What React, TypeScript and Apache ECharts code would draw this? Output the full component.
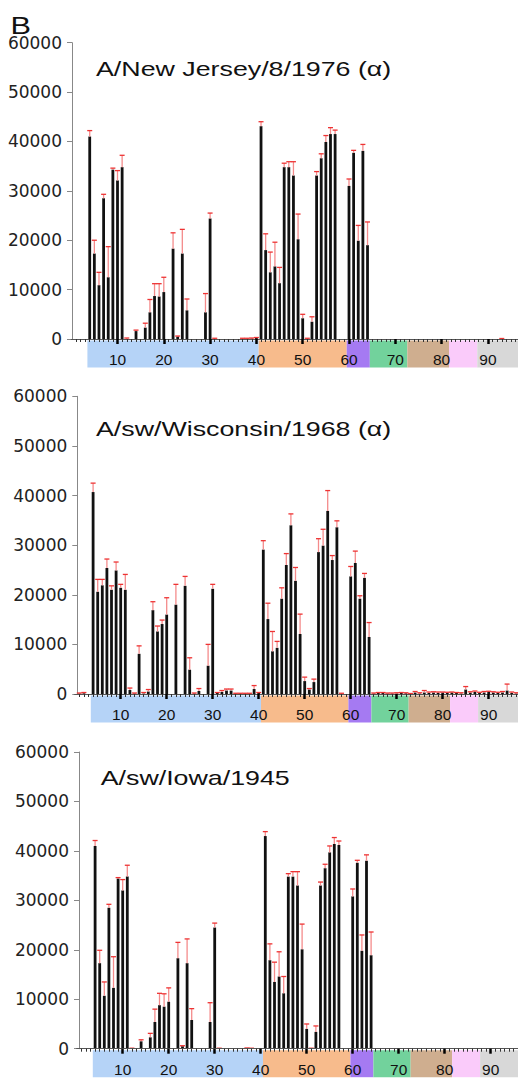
import React, { useEffect, useRef } from "react";
import * as echarts from "echarts";

// ---------- data ----------
const panelLetter = "B";
const panelTitles = ["A/New Jersey/8/1976 (α)", "A/sw/Wisconsin/1968 (α)", "A/sw/Iowa/1945"];
const xTickLabels = [10, 20, 30, 40, 50, 60, 70, 80, 90];

// domain bands along the sequence (start, end in residue units)
const domainStarts = [3.5, 40.5, 59.5, 64.5, 72.6, 81.6, 87.7];
const domainEnds = [40.5, 59.5, 64.5, 72.6, 81.6, 87.7, 100];
const domainColors = ["#b5d3f7", "#f7bb8c", "#a57af2", "#72d29c", "#cfae8f", "#facbfa", "#d8d8d8"];

// Panel 1: A/New Jersey/8/1976
const njResidues = [4, 5, 6, 7, 8, 9, 10, 11, 12, 14, 16, 17, 18, 19, 20, 22, 23, 24, 25, 29, 30, 31, 37, 38, 39, 40,
  41, 42, 43, 44, 45, 46, 47, 48, 49, 50, 51, 52, 53, 54, 55, 56, 57, 60, 61, 62, 63, 64, 93];
const njMeans = [41000, 17300, 10900, 28500, 12500, 34300, 32100, 34800, 0, 1600, 2300, 5400, 8700, 8600, 9500,
  18300, 500, 17300, 5800, 5400, 24400, 0, 0, 0, 100, 200,
  43100, 18000, 13500, 14700, 11300, 34800, 34800, 33100, 20200, 4200, 0, 3500, 33100, 36600, 39900, 41500, 41500,
  31000, 37700, 19900, 38100, 19000, 0];
const njUpper = [42200, 20000, 13500, 29300, 18700, 34600, 34100, 37200, 200, 1800, 3200, 8000, 11200, 11200, 12500,
  21500, 600, 22200, 8100, 9200, 25500, 150, 150, 150, 200, 300,
  44000, 21300, 17600, 19600, 14500, 35600, 35900, 35900, 25300, 5000, 150, 4500, 33900, 37500, 41200, 42800, 42300,
  32400, 38200, 23000, 39400, 23700, 100];

// Panel 2: A/sw/Wisconsin/1968
const wiResidues = [1, 2, 4, 5, 6, 7, 8, 9, 10, 11, 12, 13, 14, 15, 16, 17, 18, 19, 20, 22, 24, 25, 26, 27, 29, 30,
  31, 32, 33, 34, 35, 36, 37, 38, 39, 40, 41, 42, 43, 44, 45, 46, 47, 48, 49, 50, 51, 52, 53, 54, 55, 56, 57, 58,
  60, 61, 62, 63, 64, 65, 66, 67, 68, 69, 70, 71, 72, 73, 74, 75, 76, 77, 78, 79, 80, 81, 82, 83, 84, 85, 86, 87,
  88, 89, 90, 91, 92, 93, 94, 95, 96];
const wiMeans = [100, 150, 40700, 20600, 21900, 25400, 21000, 24900, 21400, 21000, 800, 100, 8100, 100, 500, 16900,
  12600, 14100, 16000, 18000, 21800, 4900, 100, 600, 5700, 21200,
  200, 400, 700, 700, 100, 100, 100, 100, 1000, 200, 29100, 15100, 8600, 9300, 19200, 26000, 34000, 22800, 12100,
  2600, 900, 2400, 28600, 29900, 36900, 27000, 33600, 0,
  23700, 26400, 19200, 23400, 11500, 100, 200, 200, 100, 100, 100, 200, 150, 0, 300, 100, 300, 200, 300, 200, 300,
  200, 300, 200, 100, 900, 300, 400, 200, 300, 400, 300, 200, 300, 700, 200, 100];
const wiUpper = [200, 300, 42500, 23100, 23100, 27200, 21800, 26600, 22100, 24100, 1200, 200, 9700, 300, 900, 18600,
  13700, 14900, 19400, 22100, 23700, 7300, 200, 1100, 10000, 22100,
  300, 700, 1000, 1000, 150, 150, 150, 150, 1700, 300, 30900, 18300, 12600, 10600, 21400, 28300, 36300, 25500, 16100,
  3400, 1100, 3000, 31300, 33200, 41000, 27900, 34900, 150,
  25700, 28800, 19800, 24300, 14400, 200, 300, 300, 200, 200, 250, 300, 250, 100, 500, 250, 700, 400, 450, 400, 400,
  350, 400, 300, 250, 1500, 450, 600, 350, 500, 550, 450, 350, 500, 2000, 400, 250];

// Panel 3: A/sw/Iowa/1945
const iaResidues = [4, 5, 6, 7, 8, 9, 10, 11, 12, 14, 16, 17, 18, 19, 20, 22, 23, 24, 25, 29, 30, 31, 37, 38,
  41, 42, 43, 44, 45, 46, 47, 48, 49, 50, 51, 52, 53, 54, 55, 56, 57, 60, 61, 62, 63, 64];
const iaMeans = [41000, 17300, 10700, 28500, 12300, 34400, 32000, 34800, 0, 1500, 2300, 5400, 8800, 8500, 9500,
  18300, 500, 17300, 5800, 5400, 24500, 0, 0, 0,
  43000, 17900, 13500, 14600, 11200, 34800, 34800, 33000, 20100, 4000, 0, 3400, 33000, 36500, 39700, 41400, 41200,
  30800, 37600, 19800, 38000, 18900];
const iaUpper = [42100, 19900, 13500, 29200, 18600, 34600, 34200, 37100, 100, 1800, 3100, 8000, 11200, 11100, 12300,
  21500, 600, 22200, 8100, 9300, 25400, 100, 150, 100,
  43900, 21200, 17500, 19600, 14600, 35400, 35800, 35800, 25200, 5000, 100, 4600, 33700, 37300, 41000, 42700, 42000,
  32300, 38100, 23000, 39200, 23600];

const panelResidues = [njResidues, wiResidues, iaResidues];
const panelMeans = [njMeans, wiMeans, iaMeans];
const panelUpper = [njUpper, wiUpper, iaUpper];

// ---------- layout (pixels) ----------
const layouts = [
  { top: 42.7, height: 296.3, left: 71.2, width: 463, yOffset: -0.8, titleX: 96, titleY: 69 },
  { top: 396.3, height: 297.7, left: 74.7, width: 460, yOffset: -2.6, titleX: 96, titleY: 429.7 },
  { top: 752, height: 296.7, left: 76.7, width: 460, yOffset: -2.3, titleX: 100.7, titleY: 778 },
];

function buildOption() {
  const grid = layouts.map((l) => ({
    left: l.left,
    width: l.width,
    top: l.top,
    height: l.height,
    containLabel: false,
    outerBoundsMode: "none",
  }));
  const xAxis = layouts.map((_, i) => ({
    type: "value",
    gridIndex: i,
    min: 0,
    max: 100,
    interval: 10,
    z: 6,
    axisLine: { show: true, onZero: false, lineStyle: { color: "#555", width: 1 } },
    axisTick: { show: true, length: 5, customValues: xTickLabels, lineStyle: { color: "#000", width: 2.5 } },
    minorTick: { show: true, splitNumber: 10, length: 3, lineStyle: { color: "#333", width: 1 } },
    axisLabel: {
      show: true,
      margin: 12.5,
      fontSize: 15.5,
      fontFamily: "Liberation Sans",
      color: "#111",
      customValues: xTickLabels,
      formatter: (v: number) => String(v),
    },
    splitLine: { show: false },
  }));
  const yAxis = layouts.map((l, i) => ({
    type: "value",
    gridIndex: i,
    min: 0,
    max: 60000,
    interval: 10000,
    offset: l.yOffset,
    axisLine: { show: true, lineStyle: { color: "#888", width: 1 } },
    axisTick: { show: true, length: 5, lineStyle: { color: "#888", width: 1 } },
    axisLabel: {
      fontFamily: "DejaVu Sans",
      fontSize: 17,
      color: "#222",
      margin: 10,
      formatter: (v: number) => String(v),
    },
    splitLine: { show: false },
  }));

  const series: any[] = [];
  layouts.forEach((_, i) => {
    series.push({
      type: "custom",
      xAxisIndex: i,
      yAxisIndex: i,
      z: 1,
      clip: false,
      silent: true,
      data: domainStarts.map((s, k) => [s, domainEnds[k], k]),
      encode: { x: [0, 1] },
      renderItem: (params: any, api: any) => {
        const s = api.coord([api.value(0), 0]);
        const e = api.coord([api.value(1), 0]);
        return {
          type: "rect",
          shape: { x: s[0], y: s[1] + 1.5, width: e[0] - s[0], height: 27 },
          style: { fill: domainColors[api.value(2)] },
        };
      },
    });
    series.push({
      type: "bar",
      xAxisIndex: i,
      yAxisIndex: i,
      z: 2,
      barWidth: 2.8,
      itemStyle: { color: "#111" },
      data: panelResidues[i].map((r, k) => [r, panelMeans[i][k]]),
    });
    series.push({
      type: "custom",
      xAxisIndex: i,
      yAxisIndex: i,
      z: 3,
      clip: false,
      silent: true,
      data: panelResidues[i].map((r, k) => [r, panelMeans[i][k], panelUpper[i][k]]),
      encode: { x: 0, y: [1, 2] },
      renderItem: (params: any, api: any) => {
        const x = api.value(0);
        const p0 = api.coord([x, api.value(1)]);
        const p1 = api.coord([x, api.value(2)]);
        return {
          type: "group",
          children: [
            {
              type: "line",
              shape: { x1: p0[0], y1: p0[1], x2: p1[0], y2: p1[1] },
              style: { stroke: "#f48b8b", lineWidth: 1.3 },
            },
            {
              type: "line",
              shape: { x1: p1[0] - 2.5, y1: p1[1], x2: p1[0] + 2.5, y2: p1[1] },
              style: { stroke: "#ee3333", lineWidth: 1.3 },
            },
          ],
        };
      },
    });
  });

  const graphic: any[] = [
    {
      type: "text",
      x: 10.5,
      y: 26,
      scaleX: 1.28,
      style: { text: panelLetter, x: 0, y: 0, font: "24px 'Liberation Sans'", fill: "#111", align: "left", verticalAlign: "middle" },
    },
    ...layouts.map((l, i) => ({
      type: "text",
      x: l.titleX,
      y: l.titleY,
      scaleX: 1.34,
      style: {
        text: panelTitles[i],
        x: 0,
        y: 0,
        font: "20px 'Liberation Sans'",
        fill: "#111",
        align: "left",
        verticalAlign: "middle",
      },
    })),
  ];

  return {
    animation: false,
    backgroundColor: "#ffffff",
    textStyle: { fontFamily: "Liberation Sans" },
    grid,
    xAxis,
    yAxis,
    series,
    graphic,
  };
}

export default function App() {
  const ref = useRef<HTMLDivElement>(null);
  useEffect(() => {
    if (!ref.current) return;
    const chart = echarts.init(ref.current, undefined, { renderer: "svg" });
    chart.setOption(buildOption() as any);
    return () => chart.dispose();
  }, []);
  return (
    <div
      ref={ref}
      style={{ position: "absolute", left: 0, top: 0, width: 518, height: 1078, overflow: "hidden", background: "#fff" }}
    />
  );
}
